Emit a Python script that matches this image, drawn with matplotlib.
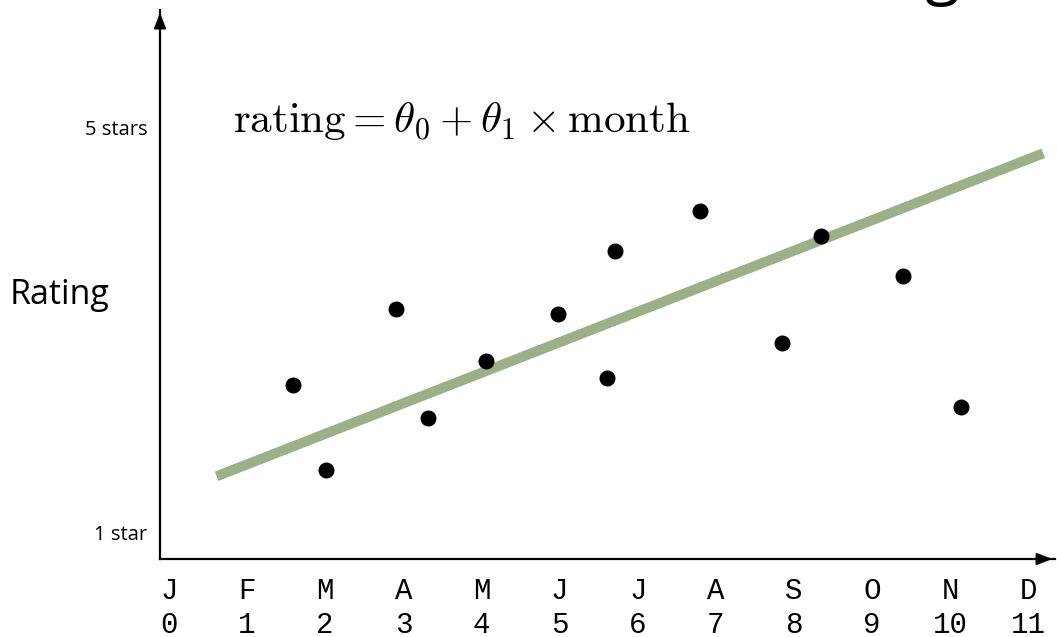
import matplotlib.pyplot as plt
import numpy as np

# ---- data ----
month_letters = ['J', 'F', 'M', 'A', 'M', 'J', 'J', 'A', 'S', 'O', 'N', 'D']
month_index = list(range(12))

point_month = [1.59, 2.01, 2.91, 3.32, 4.06, 4.98, 5.60, 5.71, 6.79, 7.84, 8.35, 9.40, 10.14]
point_rating = [2.46, 1.62, 3.21, 2.14, 2.70, 3.16, 2.53, 3.78, 4.18, 2.88, 3.93, 3.54, 2.24]

fit_month = [0.61, 11.19]
fit_rating = [1.56, 4.75]

star_ticks = [1, 5]
star_labels = ['1 star', '5 stars']

# ---- figure ----
plt.rcParams['mathtext.fontset'] = 'cm'
fig = plt.figure(figsize=(10.57, 6.37), dpi=100)
ax = fig.add_axes([160 / 1057, 78 / 637, 895 / 1057, 549 / 637])

ax.plot(fit_month, fit_rating, color='#9caf88', lw=7.2, solid_capstyle='butt', zorder=2)
ax.plot(point_month, point_rating, 'o', color='black', ms=10.5, zorder=3)

ax.set_xlim(-0.115, 11.34)
ax.set_ylim(0.743, 6.165)

for s in ['top', 'right']:
    ax.spines[s].set_visible(False)
for s in ['left', 'bottom']:
    ax.spines[s].set_linewidth(1.6)

# arrow heads on the axes
ax.annotate('', xy=(0, 1.0), xytext=(0, 0.97), xycoords='axes fraction',
            arrowprops=dict(arrowstyle='-|>,head_length=0.9,head_width=0.35', color='black', lw=1.6))
ax.annotate('', xy=(1.0, 0), xytext=(0.98, 0), xycoords='axes fraction',
            arrowprops=dict(arrowstyle='-|>,head_length=0.9,head_width=0.35', color='black', lw=1.6))

ax.set_xticks(month_index)
ax.set_xticklabels([f'{m}\n{i}' for m, i in zip(month_letters, month_index)],
                   family='Liberation Mono', fontsize=21, linespacing=1.25)
ax.tick_params(axis='x', length=0, pad=13)

ax.set_yticks(star_ticks)
ax.set_yticklabels(star_labels, family='Open Sans', fontsize=14.5)
ax.tick_params(axis='y', length=0, pad=9)

ax.text(-0.115 - 1.28, 3.35, 'Rating', family='Open Sans', fontsize=24.5,
        ha='center', va='center')

ax.text(0.82, 4.96, r'$\mathrm{rating} = \theta_0 + \theta_1 \times \mathrm{month}$',
        fontsize=31, ha='left', va='baseline')

# cut-off title glyph at the top right
fig.text(925 / 1057, 1.012, 'g', family='Open Sans', fontsize=46, ha='left', va='baseline')

fig.savefig('out.png', dpi=100)
